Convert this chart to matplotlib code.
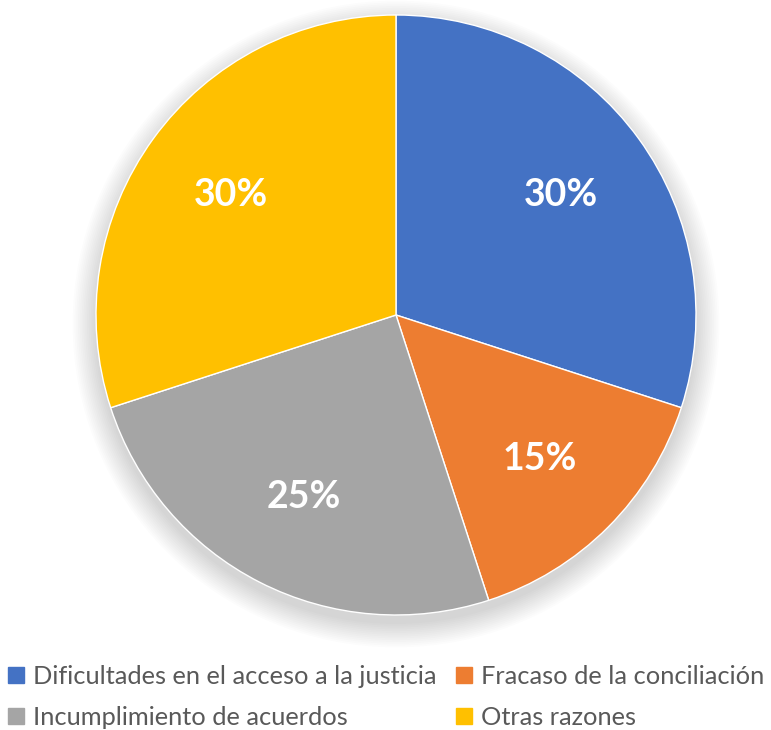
import matplotlib.pyplot as plt
from matplotlib.patches import Circle
from matplotlib.lines import Line2D

categories = ["Dificultades en el acceso a la justicia", "Fracaso de la conciliación",
              "Incumplimiento de acuerdos", "Otras razones"]
values = [30, 15, 25, 30]
colors = ["#4472C4", "#ED7D31", "#A5A5A5", "#FFC000"]

fig = plt.figure(figsize=(7.71, 7.30), dpi=100)
W, H = 771.0, 730.0
cx, cy, r = 396, 315, 300
ax = fig.add_axes([(cx - r) / W, (H - cy - r) / H, 2 * r / W, 2 * r / H])

# soft shadow under the pie
for i in range(14):
    ax.add_patch(Circle((0, -0.03), 1.0 + i * 0.006, color="black",
                        alpha=0.010, lw=0, zorder=0, clip_on=False))

wedges, texts = ax.pie(values, colors=colors, startangle=90, counterclock=False,
                       labels=[f"{v}%" for v in values], labeldistance=0.68,
                       wedgeprops=dict(edgecolor="white", linewidth=1),
                       textprops=dict(color="white", fontsize=27,
                                      fontweight="bold", family="Lato"))
for w in wedges:
    w.set_zorder(2)
for t in texts:
    t.set_ha("center")
    t.set_va("center")
    t.set_zorder(3)
ax.set_xlim(-1.0, 1.0)
ax.set_ylim(-1.0, 1.0)
ax.set_aspect("auto")
ax.axis("off")

handles = [Line2D([], [], marker="s", linestyle="none", markersize=12,
                  markerfacecolor=c, markeredgecolor=c) for c in colors]
order = [0, 2, 1, 3]
leg = fig.legend([handles[i] for i in order], [categories[i] for i in order],
                 ncol=2, loc="center", bbox_to_anchor=(0.5, (H - 697) / H),
                 frameon=False, prop=dict(family="Lato", size=18.3),
                 handlelength=0.7, handletextpad=0.3, columnspacing=0.75,
                 labelspacing=0.68, labelcolor="#595959", borderpad=0.2)

fig.savefig("out.png", dpi=100, facecolor="white")
